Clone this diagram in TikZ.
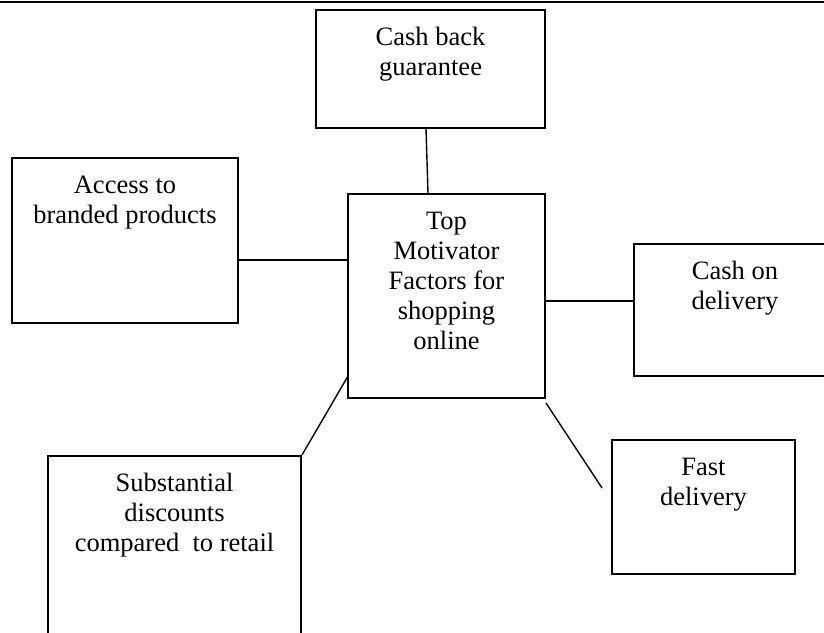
\documentclass[tikz,border=0pt]{standalone}
\usepackage{fontspec}
\setmainfont{Liberation Serif}
\newcommand\mystrut{\rule{0pt}{21pt}}
\tikzset{
  box/.style={draw, line width=1.9pt, rectangle, inner sep=0pt},
  lbl/.style={anchor=north, align=center, inner sep=0pt, font=\fontsize{26.5}{30}\selectfont},
  conn/.style={line width=1.4pt},
}
\begin{document}
\begin{tikzpicture}[x=1pt,y=-1pt]
\useasboundingbox (0,0) rectangle (824,632);
\clip (0,0) rectangle (824,632);
\coordinate (tl) at (0,1.8);
\coordinate (tr) at (824,1.8);
\draw[line width=2.2pt] (tl) -- (tr);

\node[box, minimum width=229pt, minimum height=118pt] (cb) at (430.5,69) {};
\node[lbl] (cbt) at ([yshift=-15pt]cb.north) {\mystrut Cash back\\guarantee};

\node[box, minimum width=197pt, minimum height=204pt] (ct) at (446.5,296) {};
\node[lbl] (ctt) at ([yshift=-15pt]ct.north) {\mystrut Top\\Motivator\\Factors for\\shopping\\online};

\node[box, minimum width=226pt, minimum height=165pt] (ac) at (125,240.5) {};
\node[lbl] (act) at ([yshift=-15pt]ac.north) {\mystrut Access to\\branded products};

\node[box, minimum width=206pt, minimum height=132pt] (cod) at (737,310) {};
\node[lbl] (codt) at ([shift={(-2pt,-15pt)}]cod.north) {\mystrut Cash on\\delivery};

\node[box, minimum width=183pt, minimum height=134pt] (fd) at (703.5,507) {};
\node[lbl] (fdt) at ([yshift=-15pt]fd.north) {\mystrut Fast\\delivery};

\node[box, minimum width=253pt, minimum height=224pt] (sd) at (174.5,568) {};
\node[lbl] (sdt) at ([yshift=-15pt]sd.north) {\mystrut Substantial\\discounts\\compared\hspace{0.5em}to retail};

\coordinate (fdend) at ([shift={(-9pt,19pt)}]fd.west);

\draw[conn] ([xshift=-4.5pt]cb.south) -- ([xshift=-18.5pt]ct.north);
\draw[conn] ([yshift=-19.5pt]ac.east) -- ([yshift=36pt]ct.west);
\draw[conn] ([yshift=-5pt]ct.east) -- ([yshift=9pt]cod.west);
\draw[conn] ([shift={(1pt,-80pt)}]ct.west) -- (sd.north east);
\draw[conn] ([yshift=-4pt]ct.south east) -- (fdend);
\end{tikzpicture}
\end{document}
